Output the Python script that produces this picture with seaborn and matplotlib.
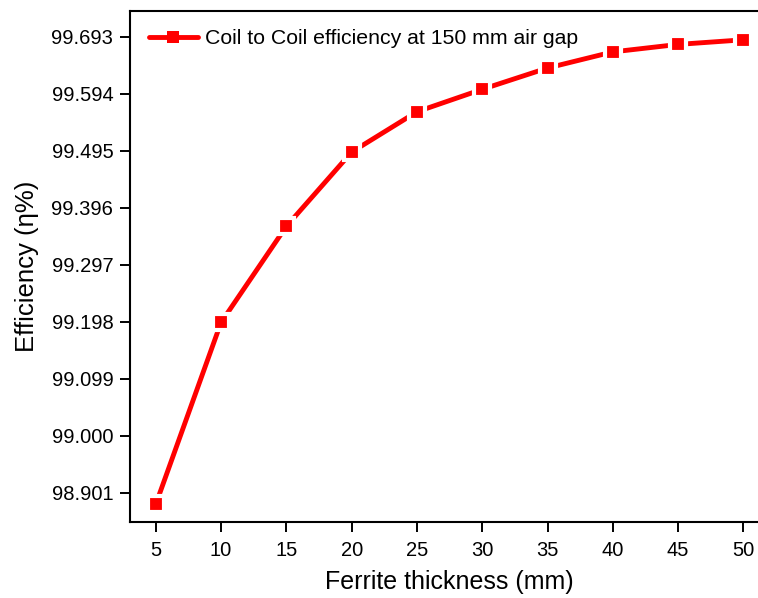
import matplotlib
matplotlib.use("Agg")
import matplotlib.pyplot as plt
import seaborn as sns
import pandas as pd

# Ferrite thickness sweep and resulting coil-to-coil efficiency
thickness_mm = [5, 10, 15, 20, 25, 30, 35, 40, 45, 50]
efficiency_pct = [98.881, 99.197, 99.364, 99.493, 99.563, 99.602, 99.639, 99.667, 99.680, 99.688]
series_label = "Coil to Coil efficiency at 150 mm air gap"

x_ticks = [5, 10, 15, 20, 25, 30, 35, 40, 45, 50]
y_ticks = [98.901, 99.000, 99.099, 99.198, 99.297, 99.396, 99.495, 99.594, 99.693]
y_tick_labels = ["98.901", "99.000", "99.099", "99.198", "99.297", "99.396", "99.495", "99.594", "99.693"]

df = pd.DataFrame({"Ferrite thickness (mm)": thickness_mm,
                   "Efficiency": efficiency_pct,
                   "series": series_label})

sns.set_style("ticks", rc={"text.color": "black", "axes.labelcolor": "black",
                           "xtick.color": "black", "ytick.color": "black",
                           "axes.edgecolor": "black"})
plt.rcParams["font.family"] = ["Liberation Sans", "DejaVu Sans"]

fig = plt.figure(figsize=(7.58, 5.98), dpi=100)
ax = fig.add_axes([0.1715, 0.1276, 0.8438, 0.854])

sns.lineplot(data=df, x="Ferrite thickness (mm)", y="Efficiency", hue="series",
             palette=["#ff0000"], marker="s", markersize=12,
             markeredgecolor="white", markeredgewidth=3.0,
             linewidth=3.5, ax=ax, legend=True)

ax.set_xlim(3.03, 52)
ax.set_ylim(98.851, 99.738)
ax.set_xticks(x_ticks)
ax.set_yticks(y_ticks)
ax.set_yticklabels(y_tick_labels)

ax.set_xlabel("Ferrite thickness (mm)", fontsize=18, labelpad=7)
ax.set_ylabel("Efficiency (\u03b7%)", fontsize=18.5, labelpad=9)

ax.tick_params(axis="both", which="major", labelsize=14.5, direction="out",
               length=7, width=1.4, colors="black", pad=5)
ax.tick_params(axis="x", pad=7)
for side in ["left", "bottom", "top", "right"]:
    ax.spines[side].set_visible(True)
    ax.spines[side].set_linewidth(1.5)
    ax.spines[side].set_color("black")

handles, labels = ax.get_legend_handles_labels()
for h in handles:
    h.set_markeredgecolor("#ff0000")
    h.set_markeredgewidth(0)
    h.set_markersize(9)
leg = ax.legend(handles, labels, loc="upper left", bbox_to_anchor=(0.006, 0.994),
                frameon=False, fontsize=15.3, handlelength=2.3, handletextpad=0.35,
                borderaxespad=0.3)

fig.savefig("out.png", dpi=100)
